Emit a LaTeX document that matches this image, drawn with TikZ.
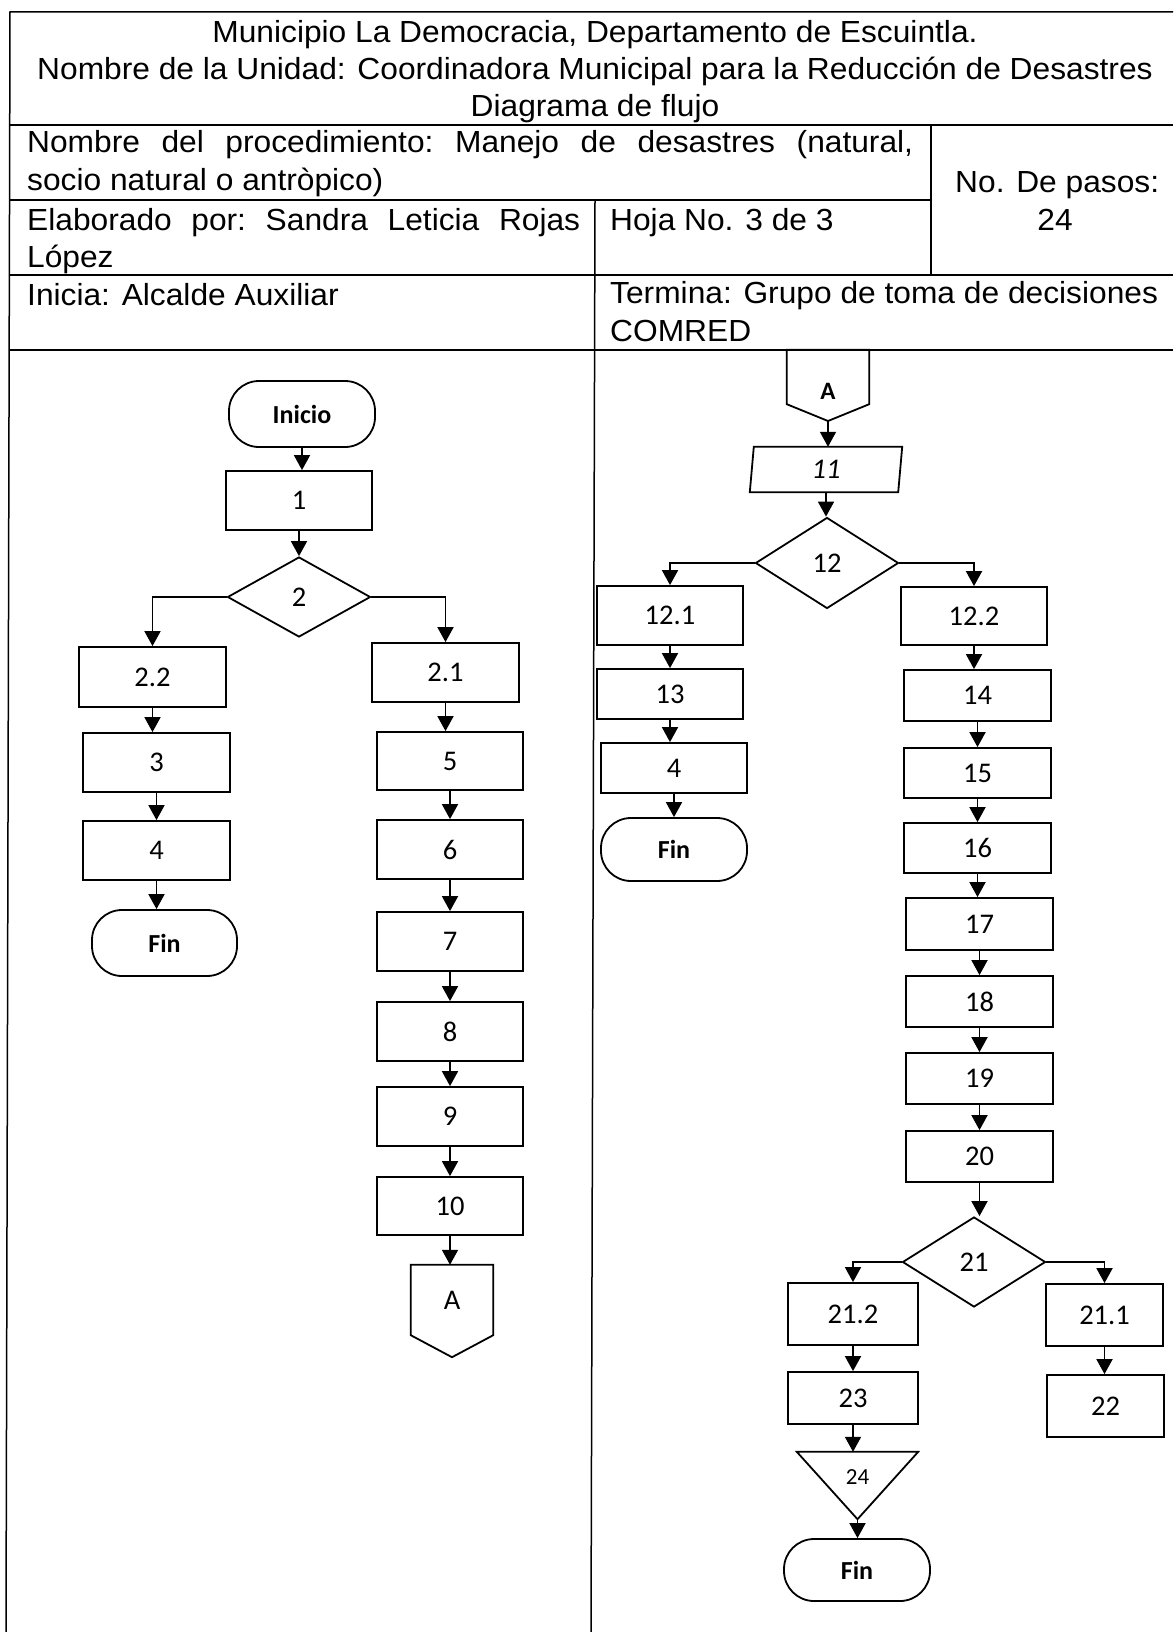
\documentclass[tikz,border=0pt]{standalone}
\usepackage{fontspec}
\setmainfont{Liberation Sans}
\newfontfamily\hdrfont{Liberation Sans}[FakeStretch=1.04]
\newfontfamily\flowfont{Carlito}
\usetikzlibrary{arrows.meta,shapes.geometric}
\begin{document}
\begin{tikzpicture}[x=1pt,y=-1pt,
  hdr/.style={font=\hdrfont\fontsize{30.5}{34}\selectfont, inner sep=0pt, anchor=base west},
  hdrc/.style={hdr, anchor=base},
  frame/.style={line width=1.5pt},
  ftext/.style={font=\flowfont\fontsize{28.5}{32}\selectfont, inner sep=0pt},
  proc/.style={ftext, draw, line width=1.8pt, minimum width=146pt, minimum height=59pt},
  term/.style={proc, rounded corners=30pt, minimum height=66pt, font=\flowfont\bfseries\fontsize{26}{30}\selectfont},
  dec/.style={ftext, diamond, draw, line width=1.8pt, minimum width=143pt, minimum height=80pt},
  ghost/.style={ftext, minimum width=82pt, minimum height=54pt},
  shapeline/.style={line width=1.8pt, line join=miter},
  arr/.style={line width=1.8pt, -{Triangle[length=15pt,width=16pt]}},
]
\useasboundingbox (0,0) rectangle (1173,1632);
\fill[white] (0,0) rectangle (1173,1632);

% ---------- frame / header table ----------
\draw[frame] (1173,12) -- (10,12) -- (6,1632);
\draw[frame] (10,125) -- (1173,125);
\draw[frame] (10,200) -- (931,200);
\draw[frame] (10,275) -- (1173,275);
\draw[frame] (9,350) -- (1173,350);
\draw[frame] (931,125) -- (931,275);
\draw[frame] (595,200) -- (591,1632);

\node[hdrc] (t1) at (595,43) {Municipio La Democracia, Departamento de Escuintla.};
\node[hdrc] (t2) at (595,80) {Nombre de la Unidad: Coordinadora Municipal para la Reducción de Desastres};
\node[hdrc] (t3) at (595,117) {Diagrama de flujo};
\node[hdr] (p1) at (27,153) {\hbox to 886pt{Nombre\hfill del\hfill procedimiento:\hfill Manejo\hfill de\hfill desastres\hfill (natural,}};
\node[hdr] (p2) at (27,191) {socio natural o antròpico)};
\node[hdr] (np) at (955,193) {No. De pasos:};
\node[hdrc] (np2) at (1055,230) {24};
\node[hdr] (e1) at (27,230) {\hbox to 553pt{Elaborado\hfill por:\hfill Sandra\hfill Leticia\hfill Rojas}};
\node[hdr] (e2) at (27,267) {López};
\node[hdr] (hj) at (610,230) {Hoja No. 3 de 3};
\node[hdr] (in) at (27,305) {Inicia: Alcalde Auxiliar};
\node[hdr] (tm1) at (610,303) {Termina: Grupo de toma de decisiones};
\node[hdr] (tm2) at (610,341) {COMRED};

% ---------- left flow ----------
\node[term] (inicio) at (302,414) {Inicio};
\node[proc] (b1) at (299,500.5) {1};
\node[dec] (d2) at (299,597) {2};
\node[proc, minimum width=147pt, minimum height=60pt] (b22) at (152.5,677) {2.2};
\node[proc, minimum width=147pt] (b3) at (156.5,762.5) {3};
\node[proc, minimum width=147pt] (b4) at (156.5,850.5) {4};
\node[term, minimum width=145pt] (fin1) at (164.5,943) {Fin};
\node[proc, minimum width=147pt] (b21) at (445.5,672.5) {2.1};
\node[proc, minimum height=58pt] (b5) at (450,761) {5};
\node[proc] (b6) at (450,849.5) {6};
\node[proc] (b7) at (450,941.5) {7};
\node[proc] (b8) at (450,1031.5) {8};
\node[proc] (b9) at (450,1116.5) {9};
\node[proc, minimum height=58pt] (b10) at (450,1206) {10};
\node[ghost, minimum height=70pt] (offA) at (452,1300) {A};
\draw[shapeline] (offA.north west) -- (offA.north east) -- (offA.south east)
  -- ([yshift=-22pt]offA.south) -- (offA.south west) -- cycle;

\draw[arr] (inicio.south) -- (inicio.south |- b1.north);
\draw[arr] (b1.south) -- (b1.south |- d2.north);
\draw[arr] (d2.west) -| (b22.north);
\draw[arr] (d2.east) -| (b21.north);
\draw[arr] (b22.south) -- (b22.south |- b3.north);
\draw[arr] (b3.south) -- (b3.south |- b4.north);
\draw[arr] (b4.south) -- (b4.south |- fin1.north);
\draw[arr] (b21.south) -- (b21.south |- b5.north);
\draw[arr] (b5.south) -- (b5.south |- b6.north);
\draw[arr] (b6.south) -- (b6.south |- b7.north);
\draw[arr] (b7.south) -- (b7.south |- b8.north);
\draw[arr] (b8.south) -- (b8.south |- b9.north);
\draw[arr] (b9.south) -- (b9.south |- b10.north);
\draw[arr] (b10.south) -- (b10.south |- offA.north);

% ---------- right flow ----------
\node[ghost] (Atop) at (828,377) {};
\node[ftext, font=\flowfont\bfseries\fontsize{25}{28}\selectfont] (AtopLbl) at (828,391) {A};
\coordinate (AtopTip) at (828,421);
\draw[shapeline] (Atop.north west) -- (Atop.north east) -- (Atop.south east)
  -- (AtopTip) -- (Atop.south west) -- cycle;
\node[ftext, minimum width=148pt, minimum height=45pt, font=\flowfont\itshape\fontsize{28.5}{32}\selectfont] (b11) at (826,469.5) {11};
\draw[shapeline] ([xshift=2pt]b11.north west) -- ([xshift=2pt]b11.north east)
  -- ([xshift=-2pt]b11.south east) -- ([xshift=-2pt]b11.south west) -- cycle;
\node[dec, minimum height=91pt] (d12) at (827,563) {12};
\node[proc] (b121) at (670,615.5) {12.1};
\node[proc, minimum height=58pt] (b122) at (974,616) {12.2};
\node[proc, minimum height=50pt] (b13) at (670,694) {13};
\node[proc, minimum height=50pt] (b4r) at (674,768) {4};
\node[term, minimum height=63pt] (fin2) at (674,849.5) {Fin};
\node[proc, minimum width=147pt, minimum height=51pt] (b14) at (977.5,695.5) {14};
\node[proc, minimum width=147pt, minimum height=50pt] (b15) at (977.5,773) {15};
\node[proc, minimum width=147pt, minimum height=50pt] (b16) at (977.5,848) {16};
\node[proc, minimum width=147pt, minimum height=52pt] (b17) at (979.5,924) {17};
\node[proc, minimum width=147pt, minimum height=51pt] (b18) at (979.5,1001.5) {18};
\node[proc, minimum width=147pt, minimum height=51pt] (b19) at (979.5,1078.5) {19};
\node[proc, minimum width=147pt, minimum height=51pt] (b20) at (979.5,1156.5) {20};
\node[dec, minimum height=90pt] (d21) at (974,1262) {21};
\node[proc, minimum width=130pt, minimum height=62pt] (b212) at (853,1314) {21.2};
\node[proc, minimum width=117pt, minimum height=62pt] (b211) at (1104.5,1315) {21.1};
\node[proc, minimum width=130pt, minimum height=52pt] (b23) at (853,1398) {23};
\node[proc, minimum width=117pt, minimum height=62pt] (b22r) at (1105.5,1406) {22};
\node[ftext, minimum width=121pt, minimum height=67pt] (t24) at (857.5,1485.5) {};
\draw[shapeline] (t24.north west) -- (t24.north east) -- (t24.south) -- cycle;
\node[ftext, font=\flowfont\fontsize{23}{26}\selectfont] (t24lbl) at (857.5,1477) {24};
\node[term, minimum height=62pt] (fin3) at (857,1570) {Fin};

\draw[arr] (AtopTip) -- (AtopTip |- b11.north);
\draw[arr] (b11.south) -- (b11.south |- d12.north);
\draw[arr] (d12.west) -| (b121.north);
\draw[arr] (d12.east) -| (b122.north);
\draw[arr] (b121.south) -- (b121.south |- b13.north);
\draw[arr] (b13.south) -- (b13.south |- b4r.north);
\draw[arr] (b4r.south) -- (b4r.south |- fin2.north);
\draw[arr] (b122.south) -- (b122.south |- b14.north);
\draw[arr] (b14.south) -- (b14.south |- b15.north);
\draw[arr] (b15.south) -- (b15.south |- b16.north);
\draw[arr] (b16.south) -- (b16.south |- b17.north);
\draw[arr] (b17.south) -- (b17.south |- b18.north);
\draw[arr] (b18.south) -- (b18.south |- b19.north);
\draw[arr] (b19.south) -- (b19.south |- b20.north);
\draw[arr] (b20.south) -- (b20.south |- d21.north);
\draw[arr] (d21.west) -| (b212.north);
\draw[arr] (d21.east) -| (b211.north);
\draw[arr] (b212.south) -- (b212.south |- b23.north);
\draw[arr] (b211.south) -- (b211.south |- b22r.north);
\draw[arr] (b23.south) -- (b23.south |- t24.north);
\draw[arr] (t24.south) -- (t24.south |- fin3.north);
\end{tikzpicture}
\end{document}
